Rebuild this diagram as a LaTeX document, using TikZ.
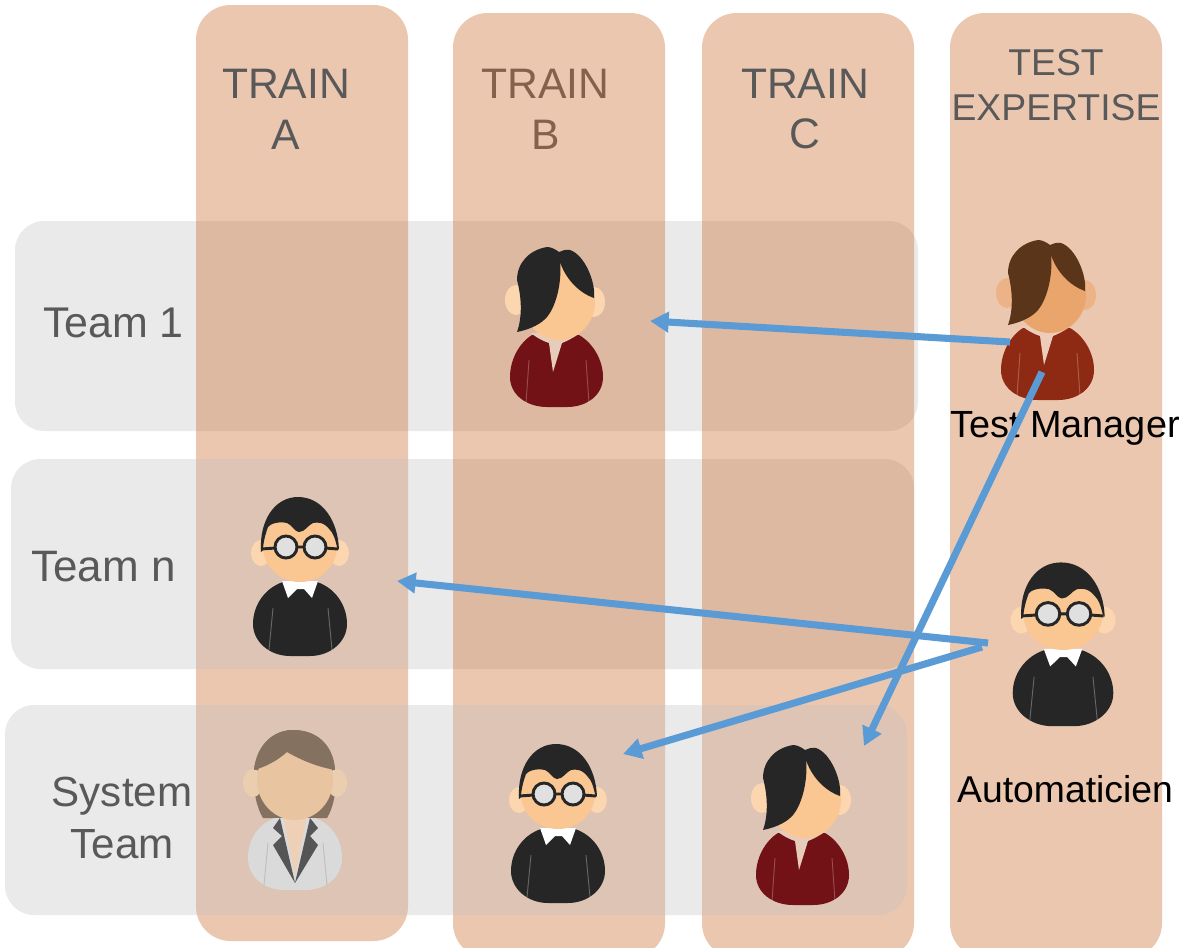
\documentclass[tikz,border=0pt]{standalone}
\usepackage{fontspec}
\setmainfont{Liberation Sans}
\usetikzlibrary{arrows.meta}

\definecolor{colfill}{HTML}{C85C17}
\definecolor{rowfill}{HTML}{C0C0C0}
\definecolor{labelgray}{HTML}{595959}
\definecolor{labelbrown}{HTML}{85604A}
\definecolor{linkblue}{HTML}{5B9BD5}
\definecolor{hairblack}{HTML}{262626}
\definecolor{earlight}{HTML}{FBD6AE}
\definecolor{facelight}{HTML}{FAC692}
\definecolor{shirtdark}{HTML}{721216}
\definecolor{necklight}{HTML}{E6CDBB}
\definecolor{hairbrown}{HTML}{5A3519}
\definecolor{facetan}{HTML}{E9A56B}
\definecolor{eartan}{HTML}{ECB388}
\definecolor{shirtrust}{HTML}{8E2A14}
\definecolor{necktan}{HTML}{EBCDB9}
\definecolor{hairgray}{HTML}{84715F}
\definecolor{jacketgray}{HTML}{DADADA}
\definecolor{lapelgray}{HTML}{555555}
\definecolor{facepale}{HTML}{E8C4A0}
\definecolor{earpale}{HTML}{EBCEB0}
\definecolor{neckpale}{HTML}{EDD0B6}

\tikzset{
    trainCol/.style={fill=colfill, fill opacity=0.34, rounded corners=26pt},
    teamRow/.style={fill=rowfill, fill opacity=0.33, rounded corners=22pt},
    bigLabel/.style={text=labelgray, inner sep=0pt, align=center, font=\fontsize{32}{38}\selectfont},
    rowLabel/.style={text=labelgray, inner sep=0pt, align=center, font=\fontsize{32.2}{39}\selectfont},
    roleLabel/.style={text=black, inner sep=0pt, font=\fontsize{28}{34}\selectfont},
    link/.style={-{Triangle[length=14pt, width=15pt]}, line width=5.3pt, draw=linkblue}
}

% #1 x, #2 y, #3 hair, #4 face, #5 ear, #6 shirt, #7 neck
\newcommand{\drawwoman}[7]{
    \begin{scope}[shift={(#1,#2)}]
        \fill [#6] (-25,30) .. controls (-38,38) and (-47,55) .. (-47,72) .. controls (-47,90) and (-30,102) .. (-10,102) -- (10,102) .. controls (30,102) and (46,90) .. (46,72) .. controls (46,55) and (36,38) .. (22,30) -- cycle;
        \fill [#7] (-26,28) .. controls (-20,33) and (-14,36) .. (-8,38) -- (-4,67) -- (5,38) .. controls (10,36) and (16,33) .. (23,28) -- cycle;
        \draw [white, opacity=0.25, line width=0.7pt] (-28,55) -- (-31,98) (29,55) -- (32,98);
        \fill [#5] (-41,-5) ellipse (11 and 15);
        \fill [#5] (37,-3) ellipse (11 and 15);
        \fill [#4] (2,-3) ellipse (36 and 38);
        \fill [#3] (-10,-58) .. controls (-28,-55) and (-40,-42) .. (-40,-25) .. controls (-36,-10) and (-34,10) .. (-40,27) .. controls (-25,24) and (-15,18) .. (-10,12) .. controls (0,0) and (5,-25) .. (3,-43) .. controls (8,-28) and (20,-13) .. (37,-7) .. controls (39,-22) and (28,-50) .. (13,-55) .. controls (8,-56) and (5,-54) .. (2,-53) .. controls (-2,-56) and (-6,-58) .. (-10,-58) -- cycle;
    \end{scope}
}

% #1 x, #2 y, #3 xscale, #4 yscale
\newcommand{\drawman}[4]{
    \begin{scope}[shift={(#1,#2)}, xscale=#3, yscale=#4]
        \fill [hairblack] (-17,32) .. controls (-35,38) and (-47,55) .. (-47,74) .. controls (-47,92) and (-30,106) .. (-10,106) -- (10,106) .. controls (30,106) and (47,92) .. (47,74) .. controls (47,55) and (35,38) .. (17,32) -- cycle;
        \fill [white] (-18,31) -- (-12,48) -- (-3,39) -- (4,39) -- (12,48) -- (18,31) -- cycle;
        \draw [white, opacity=0.3, line width=0.7pt] (-27,58) -- (-31,100) (28,58) -- (32,100);
        \fill [earlight] (-39,3) ellipse (10 and 13);
        \fill [earlight] (39,3) ellipse (10 and 13);
        \fill [facelight] (0,-3) ellipse (37 and 35);
        \fill [hairblack] (-39,2) .. controls (-41,-30) and (-25,-53) .. (-2,-53) .. controls (22,-53) and (38,-30) .. (39,0) -- (37,-3) .. controls (35,-12) and (33,-17) .. (30,-20) .. controls (24,-28) and (18,-28) .. (13,-27) .. controls (8,-25) and (5,-18) .. (-1,-18) .. controls (-5,-18) and (-8,-25) .. (-13,-27) .. controls (-22,-29) and (-30,-26) .. (-32,-23) .. controls (-35,-15) and (-37,-6) .. (-37,0) -- cycle;
        \draw [hairblack, line width=2.2pt] (-39,-1) -- (-24,-2) (-4,-3) -- (5,-3) (25,-2) -- (38,-1);
        \draw [hairblack, fill=black!12, line width=2.2pt] (-14,-3) circle (11);
        \draw [hairblack, fill=black!12, line width=2.2pt] (15,-3) circle (11);
    \end{scope}
}

\begin{document}
\begin{tikzpicture}[x=0.75pt, y=-0.75pt]
        \clip (0,0) rectangle (1184,947);
        \fill [white] (0,0) rectangle (1184,947);

        \fill [teamRow] (15,221) rectangle (918,431);
        \fill [trainCol] (196,5) rectangle (408,941);
        \fill [teamRow] (11,459) rectangle (914,669);
        \fill [trainCol] (453,13) rectangle (665,958);
        \fill [trainCol] (702,13) rectangle (914,958);
        \fill [trainCol] (950,13) rectangle (1162,958);
        \fill [teamRow] (5,705) rectangle (907,915);

        \node [bigLabel] (trainA) at (286,109) {TRAIN\\A};
        \node [bigLabel, text=labelbrown] (trainB) at (545.5,109) {TRAIN\\B};
        \node [bigLabel] (trainC) at (805,109) {TRAIN\\C};
        \node [bigLabel, font=\fontsize{28}{33.75}\selectfont] (testExpertise) at (1056,85) {TEST\\EXPERTISE};

        \node [rowLabel] (team1) at (113.5,323) {Team 1};
        \node [rowLabel, font=\fontsize{33}{39}\selectfont] (teamN) at (103.5,567) {Team n};
        \node [rowLabel, font=\fontsize{31.6}{39}\selectfont] (systemTeam) at (122,818) {System\\Team};

        \node [roleLabel, font=\fontsize{28.4}{34}\selectfont] (testManager) at (1065,428) {Test Manager};
        \node [roleLabel] (automaticien) at (1065,789) {Automaticien};

        \drawwoman{557}{305}{hairblack}{facelight}{earlight}{shirtdark}{necklight}
        \drawwoman{803}{803}{hairblack}{facelight}{earlight}{shirtdark}{necklight}
        \drawwoman{1048}{298}{hairbrown}{facetan}{eartan}{shirtrust}{necktan}

        \drawman{300}{550}{1}{1}
        \drawman{558}{797}{1}{1}
        \drawman{1063}{617}{1.07}{1.03}

        \begin{scope}[shift={(295,783)}]
            \fill [hairgray] (-32,35) .. controls (-38,25) and (-42,10) .. (-41,-13) .. controls (-38,-40) and (-20,-53) .. (-2,-53) .. controls (20,-53) and (38,-40) .. (40,-13) .. controls (42,10) and (38,25) .. (32,35) -- cycle;
            \fill [jacketgray] (-20,35) .. controls (-35,40) and (-47,55) .. (-47,75) .. controls (-47,95) and (-30,107) .. (-10,107) -- (10,107) .. controls (30,107) and (47,95) .. (47,75) .. controls (47,55) and (35,40) .. (20,35) -- cycle;
            \fill [lapelgray] (-15,35) -- (-22,45) -- (-13,53) -- (-22,62) -- (0,100) -- cycle;
            \fill [lapelgray] (15,35) -- (23,45) -- (15,53) -- (23,62) -- (0,100) -- cycle;
            \fill [neckpale] (-12,33) -- (0,93) -- (12,33) -- cycle;
            \draw [black!25, line width=0.7pt] (-27,60) -- (-31,102) (28,60) -- (32,102);
            \fill [earpale] (-42,0) ellipse (10 and 14);
            \fill [earpale] (42,0) ellipse (10 and 14);
            \fill [facepale] (0,-3) ellipse (38 and 40);
            \fill [hairgray] (-41,-13) .. controls (-38,-40) and (-20,-53) .. (-2,-53) .. controls (20,-53) and (38,-40) .. (40,-13) .. controls (30,-15) and (15,-18) .. (-8,-31) .. controls (-18,-22) and (-30,-16) .. (-41,-13) -- cycle;
        \end{scope}

        \coordinate (managerOut) at (1010,342);
        \coordinate (managerOutB) at (1042,372);
        \coordinate (automatOut) at (988,643);
        \coordinate (automatOutB) at (982,647);
        \coordinate (trainBTeam1) at (650,321);
        \coordinate (trainCSystem) at (864,746);
        \coordinate (trainATeamN) at (397,581);
        \coordinate (trainBSystem) at (623,754);

        \draw [link] (managerOut) -- (trainBTeam1);
        \draw [link] (managerOutB) -- (trainCSystem);
        \draw [link] (automatOut) -- (trainATeamN);
        \draw [link] (automatOutB) -- (trainBSystem);
    \end{tikzpicture}
\end{document}
